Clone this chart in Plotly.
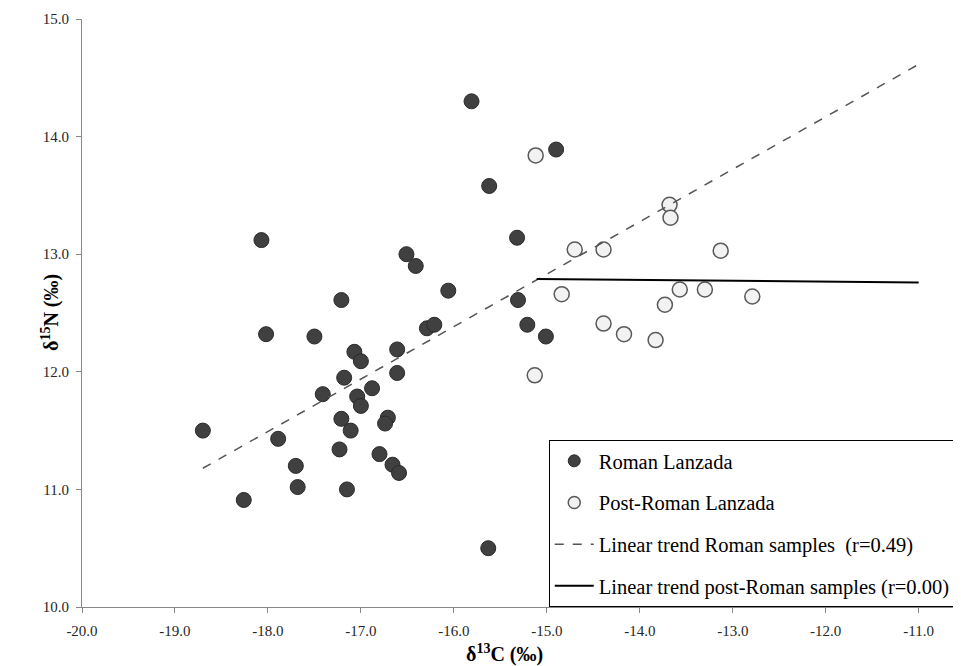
import plotly.graph_objects as go

# Roman Lanzada samples (d13C, d15N)
roman_c = [-18.70, -18.26, -18.07, -18.02, -17.89, -17.70, -17.68, -17.50, -17.41, -17.21,
           -17.18, -17.21, -17.23, -17.15, -17.11, -17.07, -17.00, -17.04, -17.00, -16.88,
           -16.80, -16.71, -16.74, -16.66, -16.59, -16.61, -16.61, -16.51, -16.41, -16.29,
           -16.21, -16.06, -15.81, -15.62, -15.63, -15.32, -15.31, -15.21, -15.01, -14.90]
roman_n = [11.50, 10.91, 13.12, 12.32, 11.43, 11.20, 11.02, 12.30, 11.81, 12.61,
           11.95, 11.60, 11.34, 11.00, 11.50, 12.17, 12.09, 11.79, 11.71, 11.86,
           11.30, 11.61, 11.56, 11.21, 11.14, 12.19, 11.99, 13.00, 12.90, 12.37,
           12.40, 12.69, 14.30, 13.58, 10.50, 13.14, 12.61, 12.40, 12.30, 13.89]

# Post-Roman Lanzada samples
post_c = [-15.12, -13.68, -13.67, -14.70, -14.39, -13.13, -14.84, -13.57, -13.30, -12.79,
          -13.73, -14.39, -14.17, -13.83, -15.13]
post_n = [13.84, 13.42, 13.31, 13.04, 13.04, 13.03, 12.66, 12.70, 12.70, 12.64,
          12.57, 12.41, 12.32, 12.27, 11.97]

# Linear trend lines (end points)
trend_roman_c = [-18.70, -11.01]
trend_roman_n = [11.18, 14.61]
trend_post_c = [-15.11, -11.00]
trend_post_n = [12.79, 12.76]

x_ticks = [-20, -19, -18, -17, -16, -15, -14, -13, -12, -11]
x_tick_labels = ["-20.0", "-19.0", "-18.0", "-17.0", "-16.0", "-15.0", "-14.0", "-13.0", "-12.0", "-11.0"]
y_ticks = [10, 11, 12, 13, 14, 15]
y_tick_labels = ["10.0", "11.0", "12.0", "13.0", "14.0", "15.0"]

series_names = ["Roman Lanzada", "Post-Roman Lanzada",
                "Linear trend Roman samples \u00a0(r=0.49)",
                "Linear trend post-Roman samples (r=0.00)"]

x_title = "<b>δ<sup>13</sup>C (‰)</b>"
y_title = "<b>δ<sup>15</sup>N (‰)</b>"

FONT = "Liberation Serif, Times New Roman, serif"

roman_marker = dict(color="#404040", line=dict(color="#2a2a2a", width=1))
post_marker = dict(color="#f2f2f2", line=dict(color="#595959", width=1.5))
roman_line = dict(color="#555555", width=1.5, dash="dash")
post_line = dict(color="#000000", width=2)

fig = go.Figure()
# plotted data
fig.add_trace(go.Scatter(x=roman_c, y=roman_n, mode="markers", showlegend=False,
                         marker=dict(size=15, **roman_marker)))
fig.add_trace(go.Scatter(x=post_c, y=post_n, mode="markers", showlegend=False,
                         marker=dict(size=15, **post_marker)))
fig.add_trace(go.Scatter(x=trend_roman_c, y=trend_roman_n, mode="lines", showlegend=False,
                         line=roman_line))
fig.add_trace(go.Scatter(x=trend_post_c, y=trend_post_n, mode="lines", showlegend=False,
                         line=post_line))
# legend entries (smaller legend symbols, as in the original)
fig.add_trace(go.Scatter(x=[None], y=[None], mode="markers", name=series_names[0],
                         legendgroup="a", marker=dict(size=12, **roman_marker)))
fig.add_trace(go.Scatter(x=[None], y=[None], mode="markers", name=series_names[1],
                         legendgroup="b", marker=dict(size=12, **post_marker)))
fig.add_trace(go.Scatter(x=[None], y=[None], mode="lines", name=series_names[2],
                         legendgroup="c", line=roman_line))
fig.add_trace(go.Scatter(x=[None], y=[None], mode="lines", name=series_names[3],
                         legendgroup="d", line=post_line))

axis_common = dict(
    showgrid=False, zeroline=False, showline=True, linecolor="#888888", linewidth=1,
    ticks="outside", ticklen=5, tickcolor="#888888",
    tickfont=dict(family=FONT, size=15, color="#262626"), automargin=False,
)

fig.update_layout(
    width=953, height=658,
    margin=dict(l=74, r=0, t=11, b=59, autoexpand=False),
    paper_bgcolor="white", plot_bgcolor="white",
    font=dict(family=FONT, color="#000000"),
    xaxis=dict(range=[-20, -10.545], tickvals=x_ticks, ticktext=x_tick_labels,
               ticklabelstandoff=5, **axis_common),
    yaxis=dict(range=[10, 15], tickvals=y_ticks, ticktext=y_tick_labels,
               ticklabelstandoff=4, **axis_common),
    legend=dict(x=0.531, y=0, xanchor="left", yanchor="bottom",
                bgcolor="white", bordercolor="#000000", borderwidth=1,
                font=dict(family=FONT, size=20.5, color="#000000"),
                tracegroupgap=12, itemwidth=39),
    showlegend=True,
    annotations=[
        dict(text=x_title, xref="paper", yref="paper", x=0.481, y=0, yshift=-46,
             xanchor="center", yanchor="middle", showarrow=False,
             font=dict(family=FONT, size=20, color="#000000")),
        dict(text=y_title, xref="paper", yref="paper", x=0, y=0.5, xshift=-32,
             xanchor="center", yanchor="middle", textangle=-90, showarrow=False,
             font=dict(family=FONT, size=20, color="#000000")),
    ],
)

fig.write_html("out.html")
